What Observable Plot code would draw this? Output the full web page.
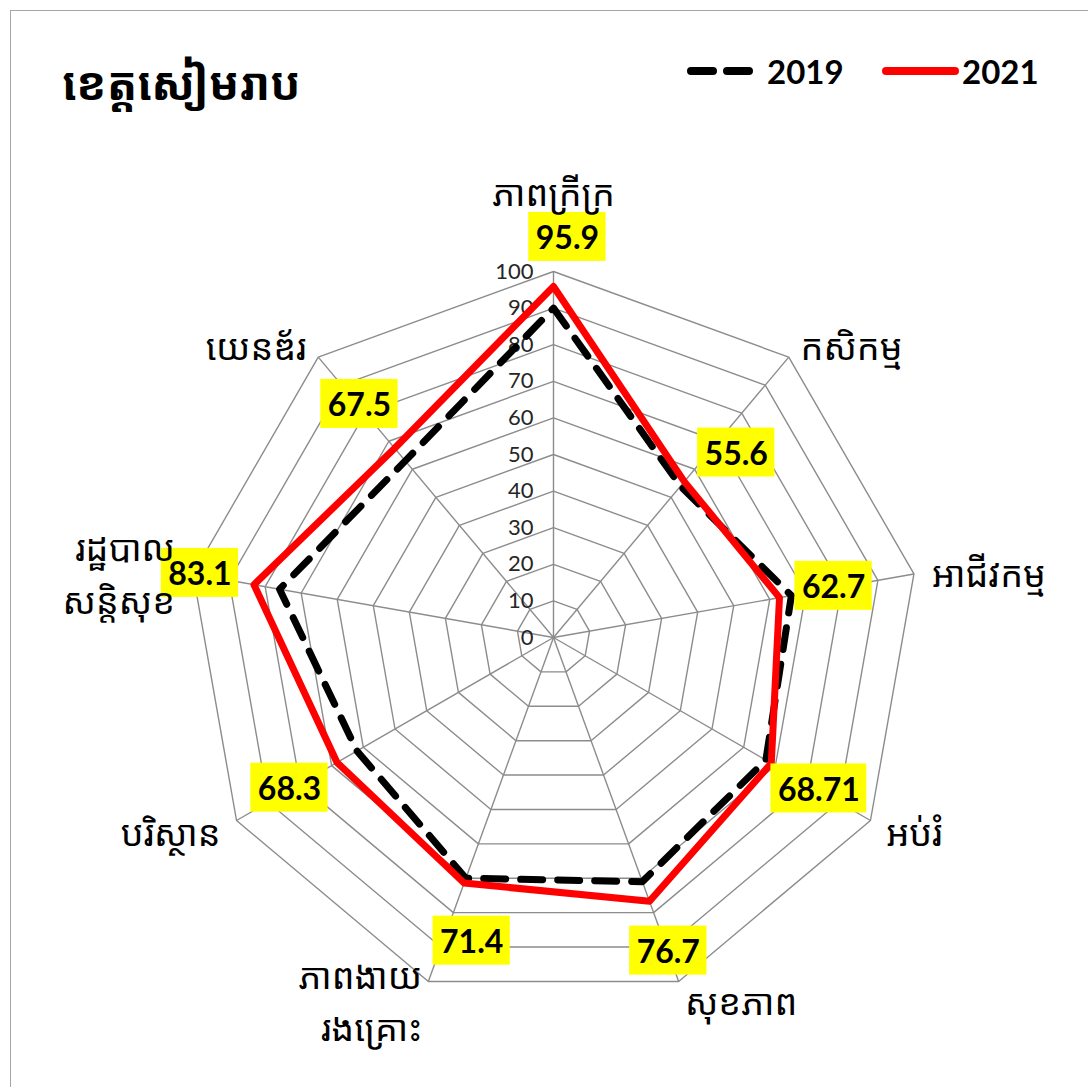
<!DOCTYPE html>
<html><head><meta charset="utf-8">
<script src="https://cdn.jsdelivr.net/npm/d3@7"></script>
<script src="https://cdn.jsdelivr.net/npm/@observablehq/plot@0.6"></script>
<style>
body{margin:0;background:#fff;}
#wrap{position:relative;width:1088px;height:1087px;overflow:hidden;background:#fff}
#frame{position:absolute;left:10px;top:10px;width:1200px;height:1200px;border:1px solid #a6a6a6;box-sizing:border-box}
#chart{position:absolute;left:0;top:0}
#title{position:absolute;left:62px;top:52px;font-weight:bold;font-size:45px;font-family:"Noto Sans Khmer","Khmer OS","Noto Sans",sans-serif;color:#000;white-space:nowrap}
.leg{position:absolute;font:bold 33px Lato,sans-serif;color:#000;line-height:1}
.legsvg{position:absolute}
</style></head><body>
<div id="wrap"><div id="frame"></div><div id="chart"></div><div id="title"></div><div id="legend"></div></div>
<script>
// ---- data ----
const title = "ខេត្តសៀមរាប";
const categories = ["ភាពក្រីក្រ","កសិកម្ម","អាជីវកម្ម","អប់រំ","សុខភាព","ភាពងាយ\nរងគ្រោះ","បរិស្ថាន","រដ្ឋបាល\nសន្តិសុខ","យេនឌ័រ"];
const series = ["2019","2021"];
const values2019 = [90, 54, 66, 67, 71, 70, 62, 76, 63];
const values2021 = [95.9, 55.6, 62.7, 68.71, 76.7, 71.4, 68.3, 83.1, 67.5];
const labels2021 = ["95.9","55.6","62.7","68.71","76.7","71.4","68.3","83.1","67.5"];
const ticks = [0,10,20,30,40,50,60,70,80,90,100];

// ---- layout ----
const W = 1088, H = 1087, CX = 553, CY = 637, R = 366;
const n = categories.length;
const ang = i => i * 2 * Math.PI / n;
const px = (v, i) => v * Math.sin(ang(i));
const py = (v, i) => v * Math.cos(ang(i));

const grid = [];
ticks.filter(t => t > 0).forEach(t => categories.forEach((c, i) => grid.push({level: t, x: px(t, i), y: py(t, i)})));
const spokes = categories.map((c, i) => ({x2: px(100, i), y2: py(100, i)}));
const pts = vals => vals.map((v, i) => ({x: px(v, i), y: py(v, i)}));
// small angular nudges (degrees) for label placement, layout only
const nudge = [2, 5, 0, 0, 0, -5, 0, 0, 0];
const dl = values2021.map((v, i) => {
  const a = ang(i) + nudge[i] * Math.PI / 180, r = v + (i === 0 ? 13 : 15);
  return {x: r * Math.sin(a), y: r * Math.cos(a), t: labels2021[i]};
});
const cats = categories.map((c, i) => {
  const r = i === 0 ? 122.5 : 105;
  const s = Math.sin(ang(i));
  return {x: px(r, i), y: py(r, i), t: c, side: Math.abs(s) < 0.2 ? "m" : (s > 0 ? "r" : "l")};
});

const khmer = '"Noto Sans Khmer","Khmer OS","Noto Sans",sans-serif';
const catOpts = {x: "x", y: "y", text: "t", fontSize: 36, fill: "#000", fontFamily: khmer, lineHeight: 1.45, lineAnchor: "middle"};

const svg = Plot.plot({
  width: W, height: H, margin: 0,
  x: {domain: [-CX / R * 100, (W - CX) / R * 100], range: [0, W], axis: null},
  y: {domain: [-(H - CY) / R * 100, CY / R * 100], range: [H, 0], axis: null},
  style: {background: "transparent", overflow: "visible"},
  marks: [
    Plot.line(grid, {x: "x", y: "y", z: "level", curve: "linear-closed", stroke: "#8c8c8c", strokeWidth: 1.4}),
    Plot.link(spokes, {x1: () => 0, y1: () => 0, x2: "x2", y2: "y2", stroke: "#8c8c8c", strokeWidth: 1.4}),
    Plot.text(ticks, {x: () => 0, y: d => d, text: d => String(d), textAnchor: "end", dx: -20, fontSize: 22, fill: "#262626", fontFamily: "Lato, sans-serif"}),
    Plot.line(pts(values2019), {x: "x", y: "y", curve: "linear-closed", stroke: "#000", strokeWidth: 7, strokeDasharray: "22 15", strokeLinecap: "round", strokeLinejoin: "round"}),
    Plot.line(pts(values2021), {x: "x", y: "y", curve: "linear-closed", stroke: "#ff0000", strokeWidth: 7, strokeLinejoin: "round"}),
    Plot.text(dl, {x: "x", y: "y", text: "t", fontSize: 32, fontWeight: "bold", fill: "#000", fontFamily: "Lato, sans-serif", className: "dlabel", ariaLabel: "dlabel"}),
    Plot.text(cats.filter(d => d.side === "m"), {...catOpts, textAnchor: "middle"}),
    Plot.text(cats.filter(d => d.side === "r"), {...catOpts, textAnchor: "start"}),
    Plot.text(cats.filter(d => d.side === "l"), {...catOpts, textAnchor: "end"})
  ]
});
document.getElementById("chart").appendChild(svg);

// yellow boxes behind data labels
const g = svg.querySelector('g[aria-label="dlabel"]') || svg.querySelector('.dlabel');
if (g) {
  const bg = document.createElementNS("http://www.w3.org/2000/svg", "g");
  g.querySelectorAll("text").forEach(t => {
    const b = t.getBBox();
    const r = document.createElementNS("http://www.w3.org/2000/svg", "rect");
    r.setAttribute("x", b.x - 7); r.setAttribute("y", b.y - 5);
    r.setAttribute("width", b.width + 14); r.setAttribute("height", b.height + 10);
    r.setAttribute("fill", "#ffff00");
    const tr = t.getAttribute("transform"); if (tr) r.setAttribute("transform", tr);
    bg.appendChild(r);
  });
  g.parentNode.insertBefore(bg, g);
}

// title
document.getElementById("title").textContent = title;

// legend
const leg = document.getElementById("legend");
const legItems = [
  {name: series[0], color: "#000", dash: "22 14", lx: 686, tx: 767},
  {name: series[1], color: "#ff0000", dash: null, lx: 881, tx: 962}
];
legItems.forEach(it => {
  const s = d3.create("svg").attr("class", "legsvg").attr("width", 80).attr("height", 20)
    .style("left", it.lx + "px").style("top", "61px");
  s.append("line").attr("x1", 5).attr("x2", it.name === "2019" ? 68 : 74).attr("y1", 10).attr("y2", 10)
    .attr("stroke", it.color).attr("stroke-width", 8).attr("stroke-linecap", "round")
    .attr("stroke-dasharray", it.dash);
  leg.appendChild(s.node());
  const t = document.createElement("div");
  t.className = "leg"; t.textContent = it.name;
  t.style.left = it.tx + "px"; t.style.top = "55px";
  leg.appendChild(t);
});
</script>
</body></html>
